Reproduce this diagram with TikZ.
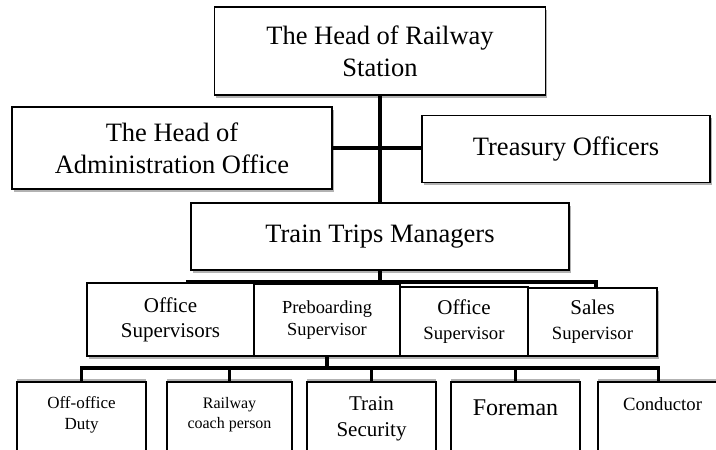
\documentclass[tikz,border=0pt]{standalone}
\usepackage{fontspec}
\setmainfont{Liberation Serif}
\usetikzlibrary{shadows}

\tikzset{
  box/.style={draw, line width=1.8pt, fill=white, inner sep=0pt, align=center,
    drop shadow={shadow xshift=1.5pt, shadow yshift=-2.5pt, opacity=0.3, fill=black}},
  lowbox/.style={draw, line width=1.8pt, fill=white, anchor=north, align=center,
    minimum width=129, inner xsep=0pt, inner ysep=15pt, text depth=90pt,
    drop shadow={shadow xshift=0pt, shadow yshift=3pt, opacity=0.3, fill=black}},
  link/.style={line width=3.2pt},
  big/.style={font=\fontsize{26.5}{32}\selectfont},
  mid/.style={font=\fontsize{21}{25}\selectfont},
}

\begin{document}
\begin{tikzpicture}[x=1pt, y=-1pt]
  \useasboundingbox (0,0) rectangle (716,450);
  \clip (0,0) rectangle (716,450);
  % upper levels
  \draw
    (380,51) node[box, big, minimum width=331, minimum height=88] (head) {The Head of Railway\\Station}
    (172,148) node[box, big, minimum width=320, minimum height=82] (admin) {The Head of\\Administration Office}
    (566,149) node[box, big, minimum width=288, minimum height=67] (treasury) {Treasury Officers}
    (380,236.5) node[box, big, minimum width=378, minimum height=67] (trips) {Train Trips Managers};
  % supervisors
  \draw
    (170.5,319.5) node[box, mid, minimum width=167, minimum height=73] (ofsups) {Office\\Supervisors}
    (327,320) node[box, font=\fontsize{18.4}{22}\selectfont, minimum width=146, minimum height=72] (preb) {Preboarding\\Supervisor}
    (464,321.5) node[box, mid, minimum width=128, minimum height=69] (ofsup) {Office\\{\fontsize{18.7}{22}\selectfont Supervisor}}
    (592.5,322) node[box, mid, minimum width=129, minimum height=68] (salessup) {Sales\\{\fontsize{18.7}{22}\selectfont Supervisor}};
  % staff
  \draw
    (81.5,381) node[lowbox, font=\fontsize{17}{20.5}\selectfont] (duty) {Off-office\\Duty}
    (229.5,381) node[lowbox, minimum width=125, font=\fontsize{16}{20}\selectfont] (coach) {Railway\\coach person}
    (371.5,381) node[lowbox, font=\fontsize{21}{26}\selectfont] (secur) {Train\\Security}
    (515.5,381) node[lowbox, inner ysep=18pt, font=\fontsize{24}{28}\selectfont] (fore) {Foreman}
    (662.5,381) node[lowbox, inner ysep=16pt, font=\fontsize{18.7}{22}\selectfont] (cond) {Conductor};
  \coordinate (bus1) at (380,282);
  \coordinate (bus1w) at (188,282);
  \coordinate (bus1e) at (596,282);
  \coordinate (bus2) at (327,368);
  \begin{scope}[link]
    \draw (head) -- (trips);
    \draw (admin.east) -- (admin.east -| treasury.west);
    \draw (trips) -- (bus1);
    \draw (ofsups.north -| bus1w) -- (bus1w) -- (bus1e) -- (salessup.north -| bus1e);
    \draw (preb) -- (bus2);
    \draw (duty) |- (bus2) -| ([xshift=-4pt]cond.north);
    \foreach \n in {coach,secur,fore}
      \draw (\n) -- (\n |- bus2);
  \end{scope}
\end{tikzpicture}
\end{document}
